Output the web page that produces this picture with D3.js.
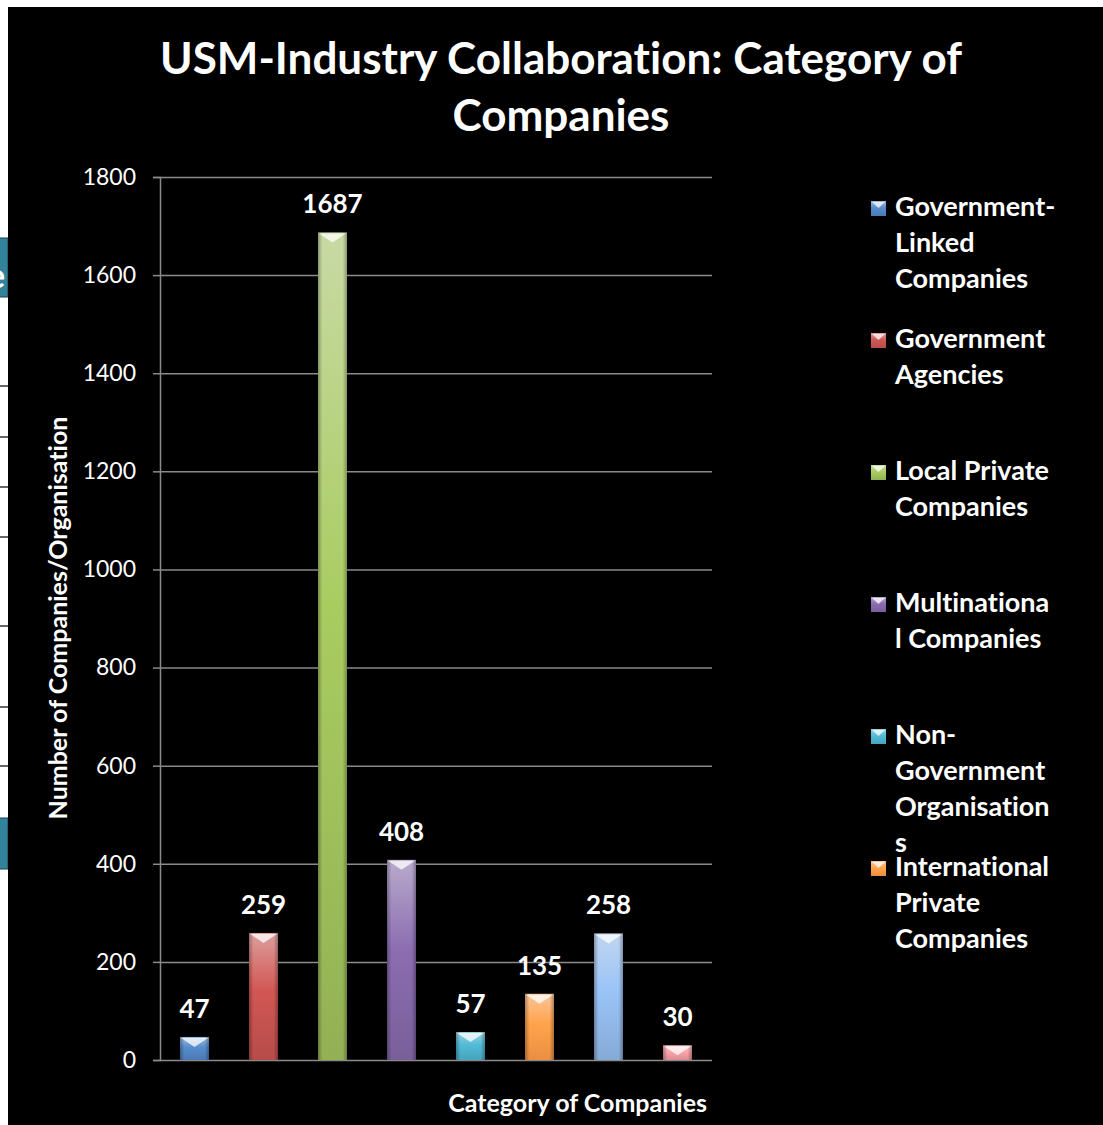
<!DOCTYPE html>
<html>
  <head>
    <meta charset="utf-8">
    <script src="https://d3js.org/d3.v7.min.js"></script>
    <title>USM-Industry Collaboration: Category of Companies</title>
    <style>
      body { margin: 0; background: #fff; }
      text { font-family: Lato, "Open Sans", sans-serif; fill: #fff; font-variant-ligatures: none; }
    </style>
  </head>
  <body>
    <div id="plot"></div>
    <script>

    // data
    const values = [47, 259, 1687, 408, 57, 135, 258, 30];
    const colors = ["#4f81bd", "#c0504d", "#9bbb59", "#8064a2", "#4bacc6", "#f79646", "#8db3e2", "#e6959b"];
    // legend entries that are visible (wrapped as in the original)
    const legendLabels = [
      ["Government-", "Linked", "Companies"],
      ["Government", "Agencies"],
      ["Local Private", "Companies"],
      ["Multinationa", "l Companies"],
      ["Non-", "Government", "Organisation", "s"],
      ["International", "Private", "Companies"]
    ];
    const yTicks = [0, 200, 400, 600, 800, 1000, 1200, 1400, 1600, 1800];

    const W = 1103, H = 1125;
    const plot = {left: 160, right: 712, top: 177, bottom: 1060};

    const svg = d3.select("#plot")
      .append("svg")
        .attr("width", W)
        .attr("height", H);

    // leftover bits of the slide behind the chart
    svg.append("rect").attr("width", W).attr("height", H).attr("fill", "#fff");
    [386, 437, 487, 537, 626, 707, 766].forEach(function(yy) {
      svg.append("line").attr("x1", 0).attr("x2", 9).attr("y1", yy).attr("y2", yy)
        .attr("stroke", "#333").attr("stroke-width", 1.5);
    });
    svg.append("rect").attr("x", -2).attr("y", 238).attr("width", 10).attr("height", 59)
      .attr("fill", "#31849b").attr("stroke", "#1f3f4a").attr("stroke-width", 1);
    svg.append("text").attr("x", -13).attr("y", 288).text("e")
      .style("font-size", "34px").style("font-weight", "bold");
    svg.append("rect").attr("x", -2).attr("y", 818).attr("width", 10).attr("height", 51)
      .attr("fill", "#31849b").attr("stroke", "#1f3f4a").attr("stroke-width", 1);

    // black chart area
    svg.append("rect").attr("x", 8).attr("y", 7).attr("width", W - 8).attr("height", H - 7)
      .attr("fill", "#000");

    const defs = svg.append("defs");
    colors.forEach(function(c, i) {
      const g = defs.append("linearGradient").attr("id", "grad" + i)
        .attr("x1", 0).attr("y1", 0).attr("x2", 0).attr("y2", 1);
      g.append("stop").attr("offset", "0%").attr("stop-color", d3.interpolateRgb(c, "#fff")(0.45));
      g.append("stop").attr("offset", "45%").attr("stop-color", d3.color(c).brighter(0.25));
      g.append("stop").attr("offset", "100%").attr("stop-color", d3.color(c).darker(0.15));
    });
    const edge = defs.append("linearGradient").attr("id", "edge");
    edge.append("stop").attr("offset", "0%").attr("stop-color", "#000").attr("stop-opacity", 0.3);
    edge.append("stop").attr("offset", "15%").attr("stop-color", "#000").attr("stop-opacity", 0);
    edge.append("stop").attr("offset", "85%").attr("stop-color", "#000").attr("stop-opacity", 0);
    edge.append("stop").attr("offset", "100%").attr("stop-color", "#000").attr("stop-opacity", 0.3);

    // scales
    const x = d3.scaleBand()
      .domain(d3.range(values.length))
      .range([plot.left, plot.right])
      .paddingInner(0.58)
      .paddingOuter(0.29);
    const y = d3.scaleLinear()
      .domain([0, 1800])
      .range([plot.bottom, plot.top]);

    // grid lines
    svg.append("g")
      .attr("transform", "translate(" + plot.left + ",0)")
      .call(d3.axisLeft(y).tickValues(yTicks).tickSize(-(plot.right - plot.left)).tickFormat(""))
      .call(function(g) { g.select(".domain").remove(); })
      .selectAll("line").attr("stroke", "#8a8a8a").attr("stroke-width", 1.5);

    // y axis
    const yAxis = svg.append("g")
      .attr("transform", "translate(" + plot.left + ",0)")
      .call(d3.axisLeft(y).tickValues(yTicks).tickFormat(d3.format("d")).tickSize(7).tickPadding(17));
    yAxis.select(".domain").attr("stroke", "#8a8a8a").attr("stroke-width", 1.5);
    yAxis.selectAll(".tick line").attr("stroke", "#8a8a8a").attr("stroke-width", 1.5);
    yAxis.selectAll(".tick text")
      .style("font-family", "Lato, sans-serif").style("font-size", "23px").attr("fill", "#fff");

    // bars
    const bars = svg.selectAll(".bar")
      .data(values)
      .enter()
      .append("g").attr("class", "bar");
    bars.append("rect")
      .attr("x", function(d, i) { return x(i); })
      .attr("y", function(d) { return y(d); })
      .attr("width", x.bandwidth())
      .attr("height", function(d) { return y(0) - y(d); })
      .attr("fill", function(d, i) { return "url(#grad" + i + ")"; });
    bars.append("rect")
      .attr("x", function(d, i) { return x(i); })
      .attr("y", function(d) { return y(d); })
      .attr("width", x.bandwidth())
      .attr("height", function(d) { return y(0) - y(d); })
      .attr("fill", "url(#edge)");
    // bevel highlight on top
    bars.append("path")
      .attr("d", function(d, i) {
        const x0 = x(i), x1 = x(i) + x.bandwidth(), t = y(d);
        return "M" + (x0 + 1) + "," + (t + 1) + "L" + (x1 - 1) + "," + (t + 1) +
          "L" + ((x0 + x1) / 2) + "," + (t + 10) + "Z";
      })
      .attr("fill", "#fff").attr("fill-opacity", 0.75);

    // value labels
    bars.append("text")
      .attr("x", function(d, i) { return x(i) + x.bandwidth() / 2; })
      .attr("y", function(d) { return y(d) - 19; })
      .attr("text-anchor", "middle")
      .style("font-size", "26px").style("font-weight", "bold")
      .text(function(d) { return d; });

    // title
    const title = svg.append("text")
      .attr("x", 561).attr("y", 74)
      .attr("text-anchor", "middle")
      .style("font-size", "44px").style("font-weight", "bold");
    title.append("tspan").attr("x", 561).text("USM-Industry Collaboration: Category of");
    title.append("tspan").attr("x", 561).attr("dy", 57).text("Companies");

    // axis titles
    svg.append("text")
      .attr("transform", "translate(67,618) rotate(-90)")
      .attr("text-anchor", "middle")
      .style("font-size", "25px").style("font-weight", "bold")
      .text("Number of Companies/Organisation");
    svg.append("text")
      .attr("x", 707).attr("y", 1112)
      .attr("text-anchor", "end")
      .style("font-size", "25px").style("font-weight", "bold")
      .text("Category of Companies");

    // legend
    const legend = svg.selectAll(".legend")
      .data(legendLabels)
      .enter()
      .append("g").attr("class", "legend")
      .attr("transform", function(d, i) { return "translate(871," + (216 + i * 132) + ")"; });
    legend.append("rect")
      .attr("x", 0).attr("y", -15).attr("width", 15).attr("height", 15)
      .attr("fill", function(d, i) { return "url(#grad" + i + ")"; });
    legend.append("path")
      .attr("d", "M1,-14L14,-14L7.5,-8Z")
      .attr("fill", "#fff").attr("fill-opacity", 0.75);
    legend.append("text")
      .attr("x", 24)
      .style("font-size", "27px").style("font-weight", "bold")
      .selectAll("tspan")
      .data(function(d) { return d; })
      .enter()
      .append("tspan")
        .attr("x", 24)
        .attr("dy", function(d, i) { return i === 0 ? 0 : 36; })
        .text(function(d) { return d; });

    </script>
  </body>
</html>
